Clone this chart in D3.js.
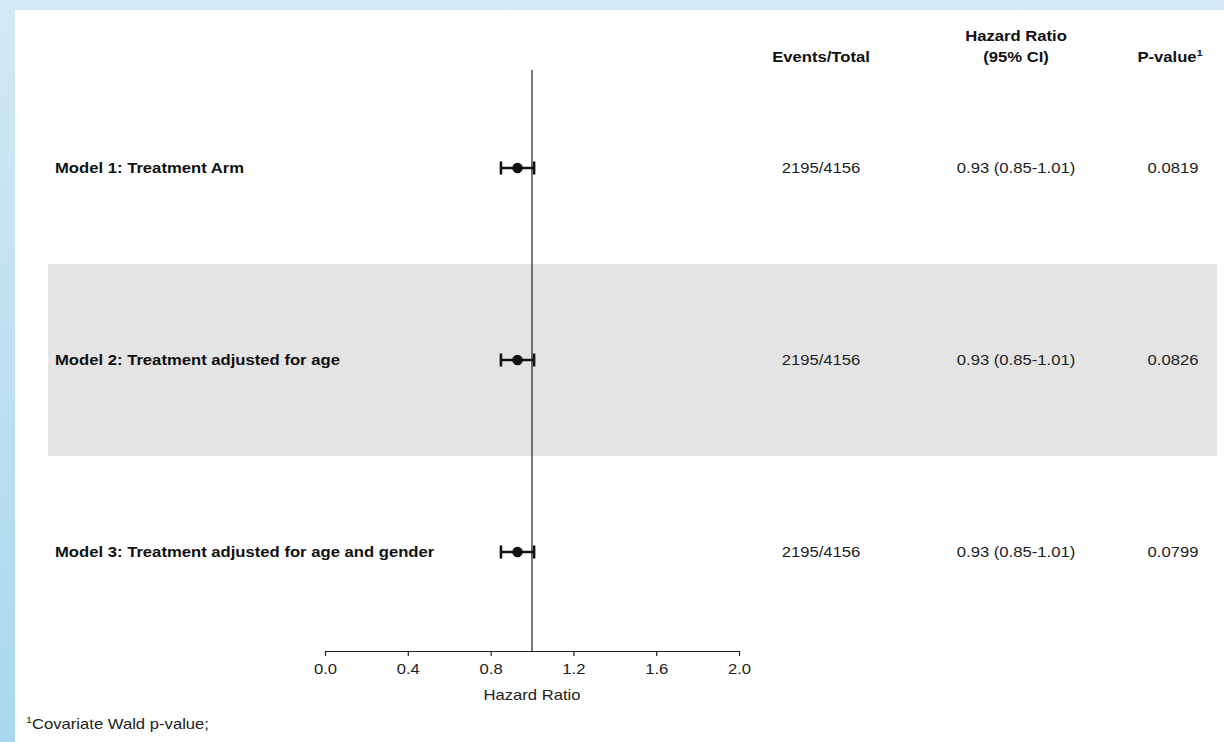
<!DOCTYPE html>
<html>
<head>
<meta charset="utf-8">
<script src="https://cdn.jsdelivr.net/npm/d3@7"></script>
<style>
  body { margin: 0; overflow: hidden; }
  svg text { font-family: "Liberation Sans", Arial, sans-serif; }
</style>
</head>
<body>
<div id="chart"></div>
<script>
// data
var models = ['Model 1: Treatment Arm', 'Model 2: Treatment adjusted for age', 'Model 3: Treatment adjusted for age and gender'];
var hazard = [0.93, 0.93, 0.93];
var lower = [0.85, 0.85, 0.85];
var upper = [1.01, 1.01, 1.01];
var eventsTotal = ['2195/4156', '2195/4156', '2195/4156'];
var hrLabels = ['0.93 (0.85-1.01)', '0.93 (0.85-1.01)', '0.93 (0.85-1.01)'];
var pValues = ['0.0819', '0.0826', '0.0799'];
var xTicks = [0.0, 0.4, 0.8, 1.2, 1.6, 2.0];

var W = 1224, H = 742;
var sx = 1.19; // picture is stretched sideways

var rows = models.map((m, i) => ({
    model: m, hr: hazard[i], lo: lower[i], hi: upper[i],
    ev: eventsTotal[i], hrText: hrLabels[i], p: pValues[i], i: i
}));

var svg = d3.select('#chart').append('svg')
    .attr('width', W)
    .attr('height', H);

var grad = svg.append('defs').append('linearGradient')
    .attr('id', 'bg')
    .attr('x1', 0).attr('y1', 0).attr('x2', 0).attr('y2', 1);
grad.append('stop').attr('offset', '0%').attr('stop-color', '#d3e8f4');
grad.append('stop').attr('offset', '100%').attr('stop-color', '#a9d8ee');

svg.append('rect').attr('width', W).attr('height', H).attr('fill', 'url(#bg)');
svg.append('rect').attr('x', 15).attr('y', 10).attr('width', W - 15).attr('height', H - 10).attr('fill', '#fff');

var x = d3.scaleLinear().domain([0, 2]).range([325, 739]);
var y = d3.scaleBand().domain(models).range([72, 648]);

function label(sel, tx, ty, anchor) {
    return sel.attr('transform', 'translate(' + tx + ',' + ty + ') scale(' + sx + ',1)')
        .attr('text-anchor', anchor || 'middle');
}

// shaded band for the second row
svg.selectAll('.band')
    .data(rows.filter(d => d.i % 2 === 1))
  .enter().append('rect')
    .attr('class', 'band')
    .attr('x', 48)
    .attr('width', 1169)
    .attr('y', d => y(d.model))
    .attr('height', y.bandwidth())
    .attr('fill', '#e4e4e4');

// reference line at 1
svg.append('line')
    .attr('x1', x(1)).attr('x2', x(1))
    .attr('y1', 70).attr('y2', 651)
    .attr('stroke', '#222')
    .attr('stroke-width', 1.2);

// axis
var axis = svg.append('g')
    .attr('transform', 'translate(0,651)')
    .call(d3.axisBottom(x).tickValues(xTicks).tickFormat(d3.format('.1f')).tickSize(5).tickSizeOuter(0));
axis.select('.domain').attr('stroke', '#222').attr('stroke-width', 1.2);
axis.selectAll('.tick line').attr('stroke', '#222').attr('stroke-width', 1.2);
axis.selectAll('.tick text')
    .attr('y', 0).attr('dy', null)
    .attr('transform', 'translate(0,23) scale(' + sx + ',1)')
    .style('font-size', '14px')
    .attr('fill', '#222')
    .style('font-family', '"Liberation Sans", Arial, sans-serif');

label(svg.append('text'), x(1), 700).text('Hazard Ratio')
    .style('font-size', '14px').attr('fill', '#222');

// rows
var row = svg.selectAll('.row')
    .data(rows)
  .enter().append('g')
    .attr('class', 'row')
    .attr('transform', d => 'translate(0,' + (y(d.model) + y.bandwidth() / 2) + ')');

row.append('text')
    .each(function(d) { label(d3.select(this), 55, 5, 'start'); })
    .text(d => d.model)
    .style('font-size', '14px').style('font-weight', 'bold').attr('fill', '#111');

row.append('line')
    .attr('x1', d => x(d.lo)).attr('x2', d => x(d.hi))
    .attr('stroke', '#111').attr('stroke-width', 2.4);
row.selectAll('.cap')
    .data(d => [d.lo, d.hi])
  .enter().append('line')
    .attr('class', 'cap')
    .attr('x1', v => x(v)).attr('x2', v => x(v))
    .attr('y1', -6.5).attr('y2', 6.5)
    .attr('stroke', '#111').attr('stroke-width', 2.6);
row.append('circle')
    .attr('cx', d => x(d.hr))
    .attr('r', 5.3)
    .attr('fill', '#111');

row.append('text')
    .each(function(d) { label(d3.select(this), 821, 5); })
    .text(d => d.ev)
    .style('font-size', '14px').attr('fill', '#222');
row.append('text')
    .each(function(d) { label(d3.select(this), 1016, 5); })
    .text(d => d.hrText)
    .style('font-size', '14px').attr('fill', '#222');
row.append('text')
    .each(function(d) { label(d3.select(this), 1173, 5); })
    .text(d => d.p)
    .style('font-size', '14px').attr('fill', '#222');

// headers
var hdr = svg.append('g').style('font-size', '14px').style('font-weight', 'bold').attr('fill', '#111');
label(hdr.append('text'), 821, 62).text('Events/Total');
label(hdr.append('text'), 1016, 41).text('Hazard Ratio');
label(hdr.append('text'), 1016, 62).text('(95% CI)');
var pv = label(hdr.append('text'), 1170, 62);
pv.append('tspan').text('P-value');
pv.append('tspan').attr('dy', -6).style('font-size', '9px').text('1');

// footnote
var fn = label(svg.append('text'), 26, 729, 'start').style('font-size', '14px').attr('fill', '#222');
fn.append('tspan').attr('dy', -6).style('font-size', '9px').text('1');
fn.append('tspan').attr('dy', 6).text('Covariate Wald p-value;');
</script>
</body>
</html>
